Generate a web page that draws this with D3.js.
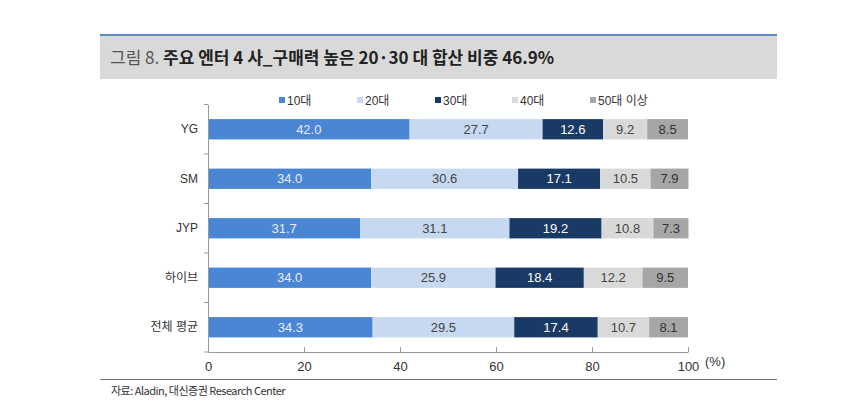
<!DOCTYPE html>
<html><head><meta charset="utf-8">
<script src="https://cdn.jsdelivr.net/npm/d3@7"></script>
<style>
body{margin:0;background:#fff;}
svg{display:block;font-family:"Liberation Sans","Noto Sans CJK KR",sans-serif;}
</style></head>
<body><svg id="c" width="850" height="404"></svg>
<script>
const categories = ["YG","SM","JYP","하이브","전체 평균"];
const seriesNames = ["10대","20대","30대","40대","50대 이상"];
const v10 = [42.0,34.0,31.7,34.0,34.3];
const v20 = [27.7,30.6,31.1,25.9,29.5];
const v30 = [12.6,17.1,19.2,18.4,17.4];
const v40 = [9.2,10.5,10.8,12.2,10.7];
const v50 = [8.5,7.9,7.3,9.5,8.1];
const xTicks = [0,20,40,60,80,100];
const titlePrefix = "그림 8.";
const titleText = "주요 엔터 4 사_구매력 높은 20·30 대 합산 비중 46.9%";
const sourceText = "자료: Aladin, 대신증권 Research Center";

const colors = ["#4a86d3","#c6d9f1","#1a3a66","#d9d9d9","#a6a6a6"];
const labelColors = ["#e6eef9","#444","#ffffff","#444","#333"];

const svg = d3.select("#c");
// title box
svg.append("rect").attr("x",100).attr("y",35).attr("width",677).attr("height",44).attr("fill","#d9d9d9");
svg.append("rect").attr("x",100).attr("y",34).attr("width",677).attr("height",2).attr("fill","#5a8cc2");
const t = svg.append("text").attr("x",110).attr("y",64).attr("font-size",17).attr("font-family","'Noto Sans CJK KR',sans-serif");
t.append("tspan").attr("fill","#555").text(titlePrefix+" ");
t.append("tspan").attr("fill","#222").attr("font-weight","bold").text(titleText);

// footer
svg.append("rect").attr("x",100).attr("y",379).attr("width",677).attr("height",1).attr("fill","#777");
svg.append("text").attr("x",111).attr("y",395).attr("font-size",11).attr("fill","#333")
  .attr("font-family","'Liberation Sans Narrow','Noto Sans CJK KR',sans-serif").attr("letter-spacing","-0.5")
  .text(sourceText);

const x = d3.scaleLinear().domain([0,100]).range([208,688]);
const y = d3.scaleBand().domain(categories).range([104.5,352]).paddingInner(0.59).paddingOuter(0.295);

const data = categories.map((c,i)=>({cat:c,"10대":v10[i],"20대":v20[i],"30대":v30[i],"40대":v40[i],"50대 이상":v50[i]}));
const stacked = d3.stack().keys(seriesNames)(data);

stacked.forEach((s,si)=>{
  const g = svg.append("g");
  g.selectAll("rect").data(s).join("rect")
    .attr("x",d=>x(d[0])).attr("width",d=>x(d[1])-x(d[0]))
    .attr("y",d=>y(d.data.cat)).attr("height",y.bandwidth())
    .attr("fill",colors[si]);
  g.selectAll("text").data(s).join("text")
    .attr("x",d=>(x(d[0])+x(d[1]))/2).attr("y",d=>y(d.data.cat)+y.bandwidth()/2+4.5)
    .attr("text-anchor","middle").attr("font-size",13).attr("fill",labelColors[si])
    .text(d=>(d[1]-d[0]).toFixed(1));
});

// axes
const axisColor = "#999";
const xa = svg.append("g").attr("transform","translate(0,352)")
  .call(d3.axisBottom(x).tickValues(xTicks).tickSizeInner(-5).tickSizeOuter(0).tickPadding(10));
xa.select(".domain").attr("stroke",axisColor);
xa.selectAll(".tick line").attr("stroke",axisColor);
xa.selectAll(".tick text").attr("font-size",13).attr("fill","#333").attr("font-family","'Liberation Sans',sans-serif");
svg.append("text").attr("x",705).attr("y",366).attr("font-size",13).attr("fill","#333").text("(%)");

const ya = svg.append("g").attr("transform","translate(208,0)")
  .call(d3.axisLeft(y).tickSize(0).tickPadding(10));
ya.select(".domain").attr("stroke",axisColor);
ya.selectAll(".tick text").attr("font-size",12).attr("fill","#333").attr("font-family","'Liberation Sans','Noto Sans CJK KR',sans-serif");
// boundary ticks between categories
const bounds = d3.range(0,categories.length+1).map(i=>y.range()[0]+i*y.step());
svg.append("g").selectAll("line").data(bounds).join("line")
  .attr("x1",204).attr("x2",208).attr("y1",d=>d).attr("y2",d=>d).attr("stroke",axisColor);

// legend
const lg = svg.append("g");
const lx = [279,357,435,512,590];
seriesNames.forEach((n,i)=>{
  lg.append("rect").attr("x",lx[i]).attr("y",97).attr("width",6).attr("height",6).attr("fill",colors[i]);
  lg.append("text").attr("x",lx[i]+8).attr("y",104.5).attr("font-size",12).attr("fill","#333")
    .attr("font-family","'Liberation Sans','Noto Sans CJK KR',sans-serif").text(n);
});
</script></body></html>
